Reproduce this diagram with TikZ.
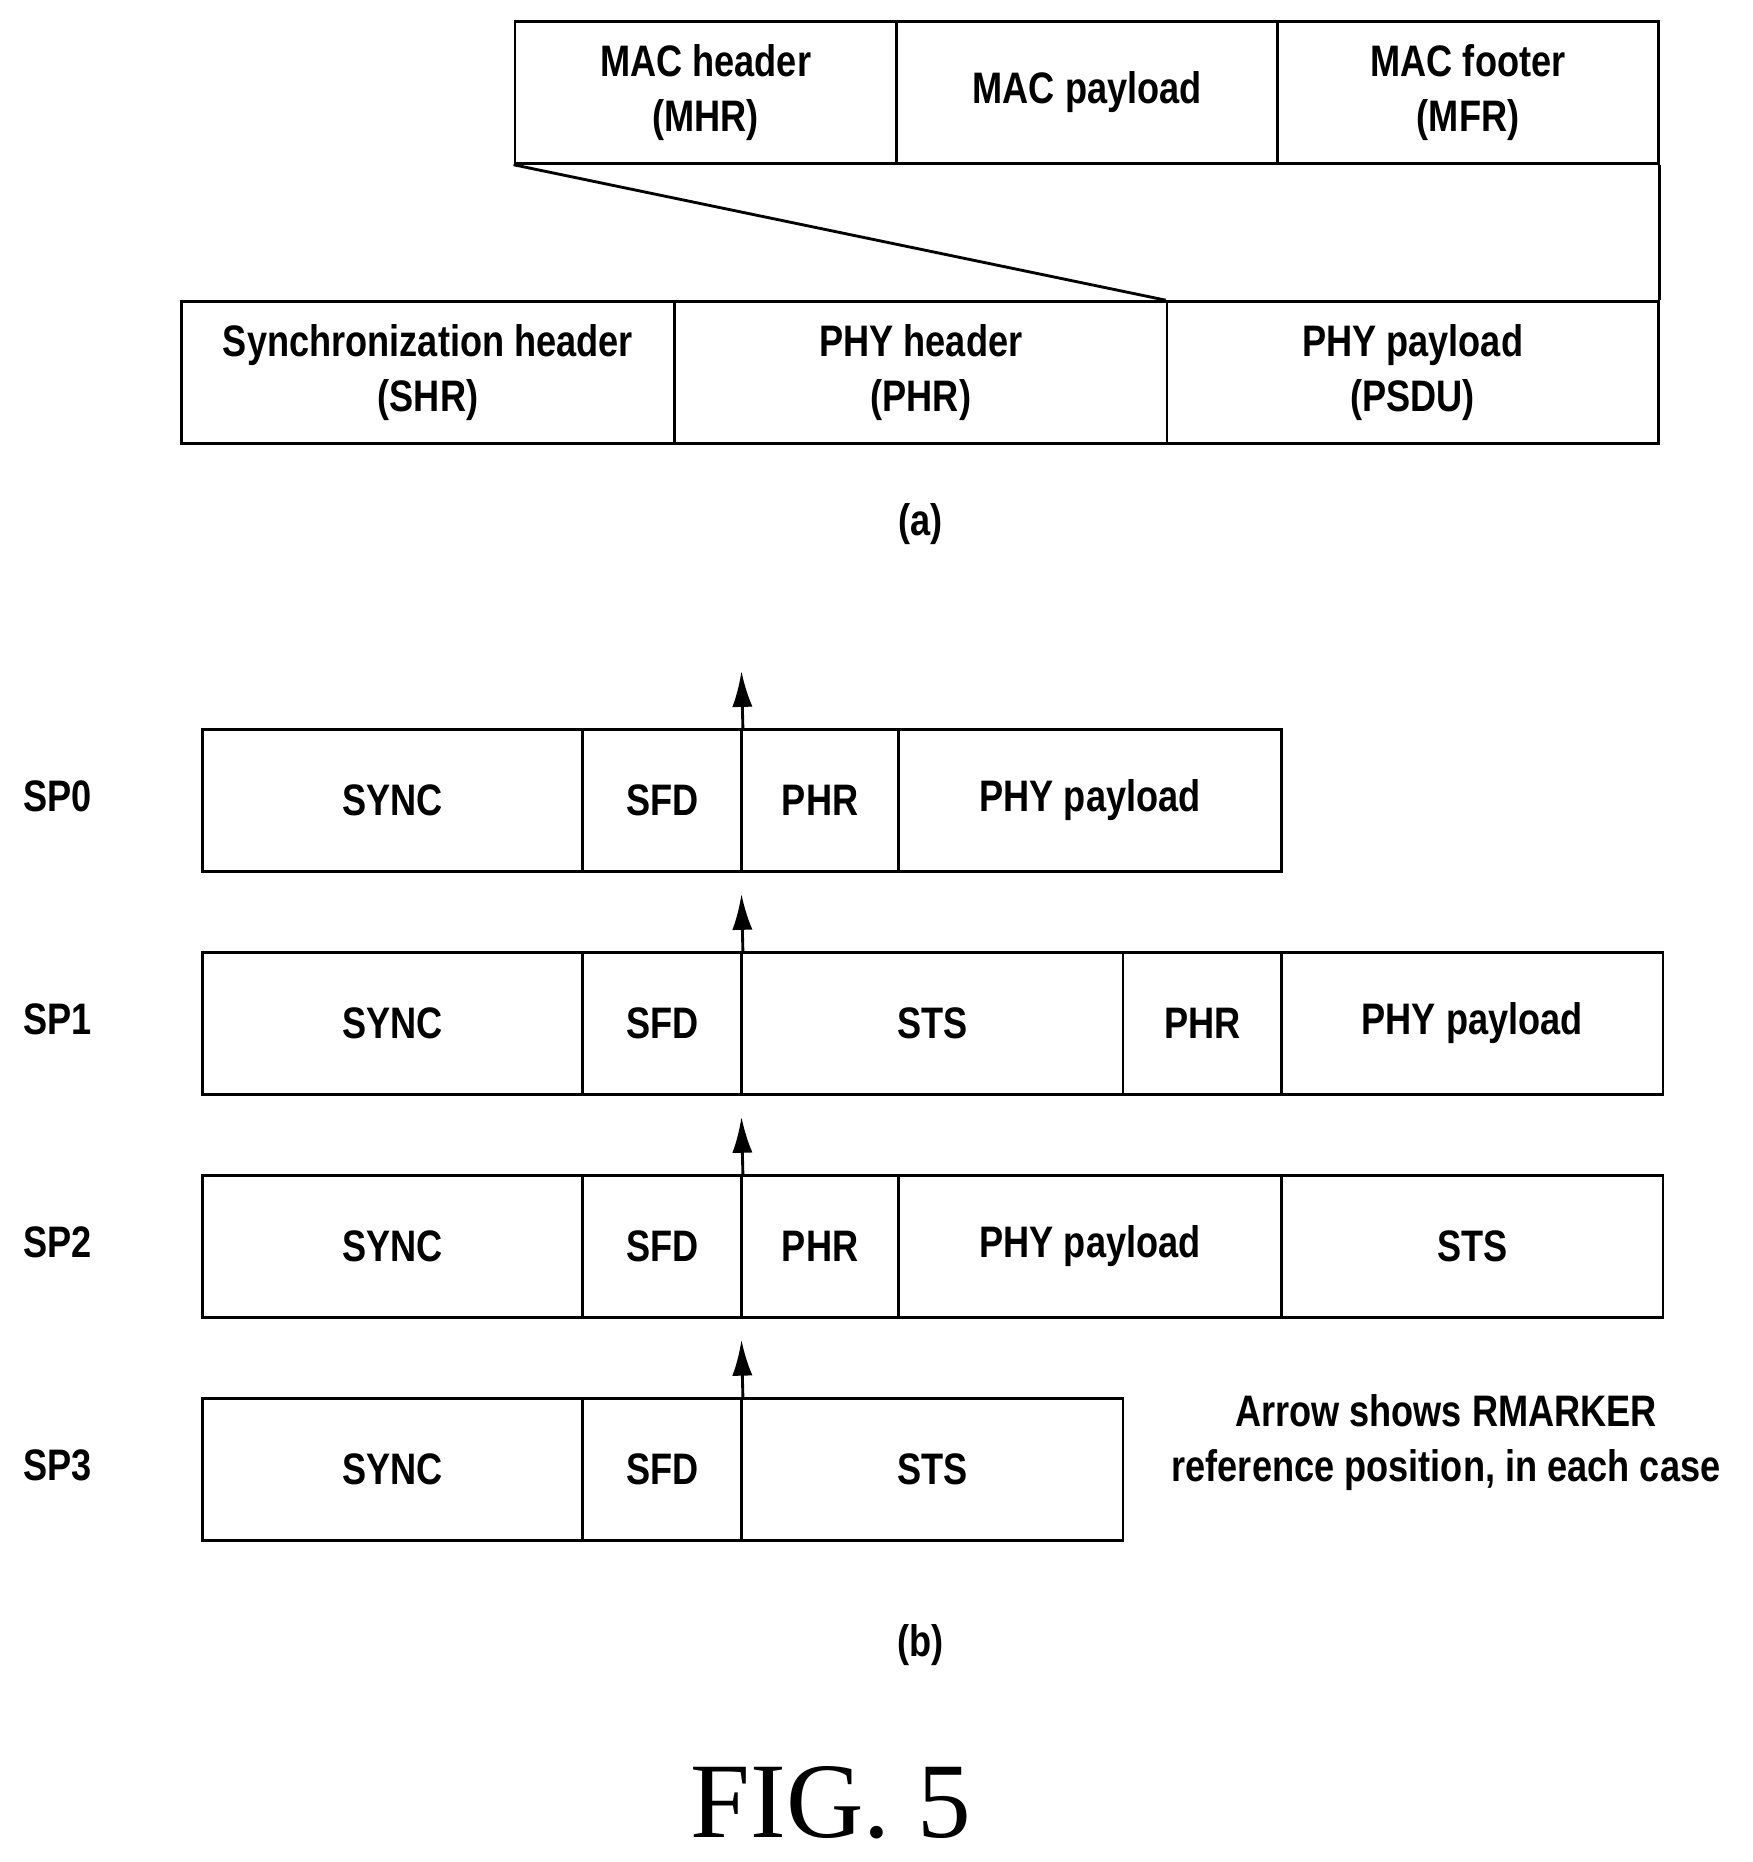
\documentclass[tikz,border=0pt]{standalone}
\usepackage{fontspec}
\setmainfont{Liberation Sans}[FakeStretch=0.82]
\newfontfamily\figfont{Liberation Serif}
\usetikzlibrary{arrows.meta}
\begin{document}
\begin{tikzpicture}[x=1pt,y=-1pt,
  cell/.style={draw,line width=2.4pt,inner sep=0pt,minimum height=119pt,align=center,font=\bfseries\fontsize{37}{46}\selectfont},
  txt/.style={inner sep=0pt,align=center,font=\bfseries\fontsize{37}{46}\selectfont},
  arr/.style={line width=2.4pt,-{Latex[length=30pt,width=17pt]}}]
\useasboundingbox (0,0) rectangle (1470,1562);
% (a) MAC row
\node[cell,minimum width=320pt] (mhr) at (592,77.5) {MAC header\\(MHR)};
\node[cell,minimum width=320pt] (mpl) at (912,77.5) {MAC payload};
\node[cell,minimum width=319pt] (mfr) at (1231.5,77.5) {MAC footer\\(MFR)};
% PHY row
\node[cell,minimum width=414pt] (shr) at (359,312.5) {Synchronization header\\(SHR)};
\node[cell,minimum width=413pt] (phr) at (772.5,312.5) {PHY header\\(PHR)};
\node[cell,minimum width=412pt] (psdu) at (1185,312.5) {PHY payload\\(PSDU)};
\draw[line width=2.4pt] (mhr.south west) -- (psdu.north west);
\draw[line width=2.4pt] (mfr.south east) -- (psdu.north east);
\node[txt] (la) at (772,440) {(a)};
% SP0
\node[txt] (l0) at (48,668) {SP0};
\node[cell,minimum width=319pt] (s0a) at (329.5,671.5) {SYNC};
\node[cell,minimum width=133pt] (s0b) at (555.5,671.5) {SFD};
\node[cell,minimum width=132pt] (s0c) at (688,671.5) {PHR};
\node[cell,minimum width=321pt] (s0d) at (914.5,671.5) {PHY payload};
% SP1
\node[txt] (l1) at (48,855) {SP1};
\node[cell,minimum width=319pt] (s1a) at (329.5,858.5) {SYNC};
\node[cell,minimum width=133pt] (s1b) at (555.5,858.5) {SFD};
\node[cell,minimum width=320pt] (s1c) at (782,858.5) {STS};
\node[cell,minimum width=133pt] (s1d) at (1008.5,858.5) {PHR};
\node[cell,minimum width=320pt] (s1e) at (1235,858.5) {PHY payload};
% SP2
\node[txt] (l2) at (48,1042) {SP2};
\node[cell,minimum width=319pt] (s2a) at (329.5,1045.5) {SYNC};
\node[cell,minimum width=133pt] (s2b) at (555.5,1045.5) {SFD};
\node[cell,minimum width=132pt] (s2c) at (688,1045.5) {PHR};
\node[cell,minimum width=321pt] (s2d) at (914.5,1045.5) {PHY payload};
\node[cell,minimum width=320pt] (s2e) at (1235,1045.5) {STS};
% SP3
\node[txt] (l3) at (48,1229) {SP3};
\node[cell,minimum width=319pt] (s3a) at (329.5,1232.5) {SYNC};
\node[cell,minimum width=133pt] (s3b) at (555.5,1232.5) {SFD};
\node[cell,minimum width=320pt] (s3c) at (782,1232.5) {STS};
\node[txt] (note) at (1213,1210) {Arrow shows RMARKER\\reference position, in each case};
% arrows
\coordinate (t0) at (622,563);
\coordinate (t1) at (622,750);
\coordinate (t2) at (622,937);
\coordinate (t3) at (622,1124);
\draw[arr] (s0b.north east) -- (t0);
\draw[arr] (s1b.north east) -- (t1);
\draw[arr] (s2b.north east) -- (t2);
\draw[arr] (s3b.north east) -- (t3);
\node[txt] (lb) at (772,1380) {(b)};
\node[inner sep=0pt,font=\figfont\fontsize{90}{96}\selectfont] (fig) at (697,1512) {FIG. 5};
\end{tikzpicture}
\end{document}
